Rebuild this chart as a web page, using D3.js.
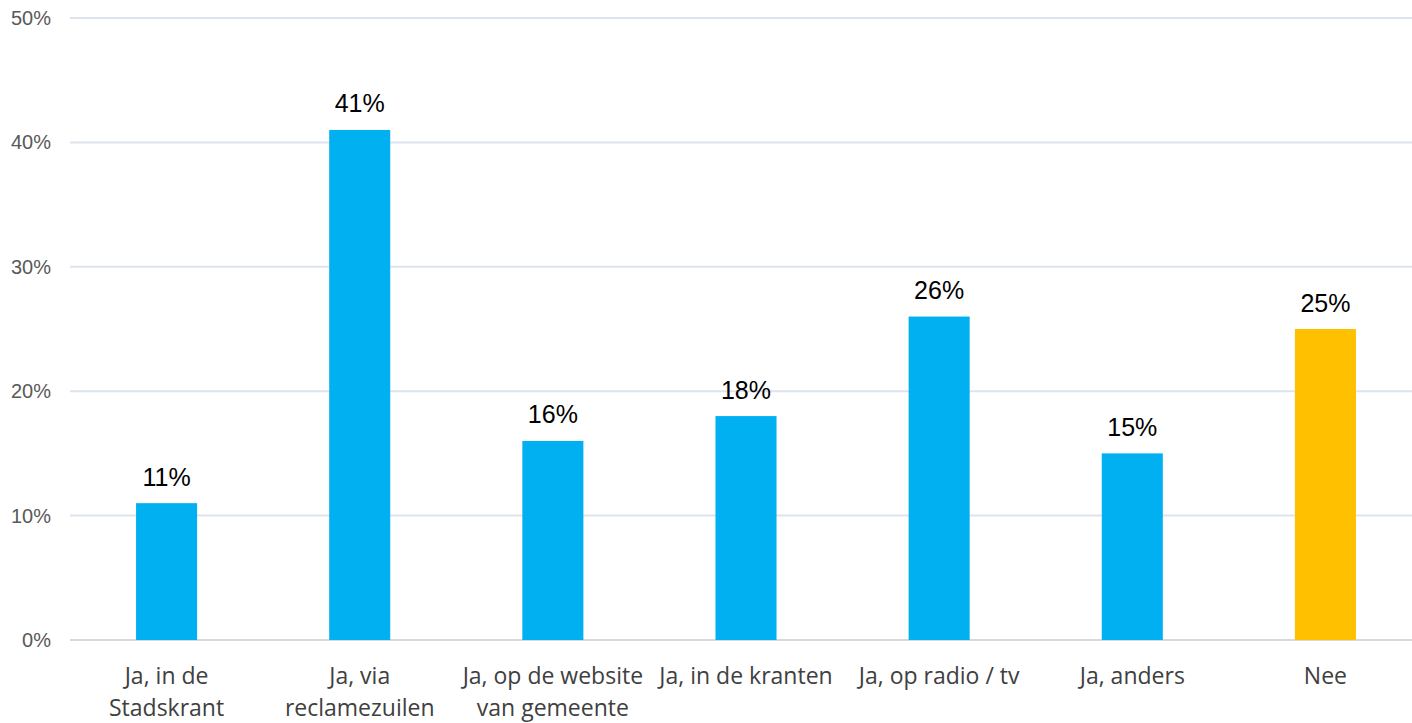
<!DOCTYPE html>
<html>
<head>
<meta charset="utf-8">
<script src="https://cdn.jsdelivr.net/npm/d3@7"></script>
<style>
  body { margin: 0; background: #fff; }
  svg { display: block; }
</style>
</head>
<body>
<script>
var width = 1412
var height = 723

var categories = [
  ['Ja, in de', 'Stadskrant'],
  ['Ja, via', 'reclamezuilen'],
  ['Ja, op de website', 'van gemeente'],
  ['Ja, in de kranten'],
  ['Ja, op radio / tv'],
  ['Ja, anders'],
  ['Nee']
]
var values = [11, 41, 16, 18, 26, 15, 25]
var colors = ['#00b0f0', '#00b0f0', '#00b0f0', '#00b0f0', '#00b0f0', '#00b0f0', '#ffc000']
var yTicks = [0, 10, 20, 30, 40, 50]

var x = d3.scaleBand()
    .domain(d3.range(values.length))
    .range([70, 1422])
    .paddingInner(0.684)
    .paddingOuter(0.342)

var y = d3.scaleLinear()
    .domain([0, 50])
    .range([640, 18])

var svg = d3.select('body').append('svg')
    .attr('width', width)
    .attr('height', height)

// gridlines
svg.append('g').selectAll('line')
    .data(yTicks)
    .join('line')
    .attr('x1', 70)
    .attr('x2', width)
    .attr('y1', d => y(d))
    .attr('y2', d => y(d))
    .attr('stroke', d => d === 0 ? '#d9d9d9' : '#dde4ee')
    .attr('stroke-width', 2)

// y tick labels
svg.append('g').selectAll('text')
    .data(yTicks)
    .join('text')
    .attr('x', 51)
    .attr('y', d => y(d))
    .attr('dy', '0.35em')
    .attr('text-anchor', 'end')
    .attr('font-family', 'Liberation Sans, Arial, sans-serif')
    .attr('font-size', 20)
    .attr('fill', '#595959')
    .text(d => d + '%')

// bars
svg.append('g').selectAll('rect')
    .data(values)
    .join('rect')
    .attr('x', (d, i) => x(i))
    .attr('width', x.bandwidth())
    .attr('y', d => y(d))
    .attr('height', d => y(0) - y(d))
    .attr('fill', (d, i) => colors[i])

// value labels
svg.append('g').selectAll('text')
    .data(values)
    .join('text')
    .attr('x', (d, i) => x(i) + x.bandwidth() / 2)
    .attr('y', d => y(d) - 17.5)
    .attr('text-anchor', 'middle')
    .attr('font-family', 'Liberation Sans, Arial, sans-serif')
    .attr('font-size', 25)
    .attr('fill', '#000')
    .text(d => d + '%')

// category labels
var cat = svg.append('g').selectAll('text')
    .data(categories)
    .join('text')
    .attr('x', (d, i) => x(i) + x.bandwidth() / 2)
    .attr('y', 684)
    .attr('text-anchor', 'middle')
    .attr('font-family', 'Open Sans, sans-serif')
    .attr('font-size', 23)
    .attr('fill', '#404040')

cat.selectAll('tspan')
    .data(d => d)
    .join('tspan')
    .attr('x', function() { return d3.select(this.parentNode).attr('x') })
    .attr('dy', (d, i) => i === 0 ? 0 : 32)
    .text(d => d)
</script>
</body>
</html>
